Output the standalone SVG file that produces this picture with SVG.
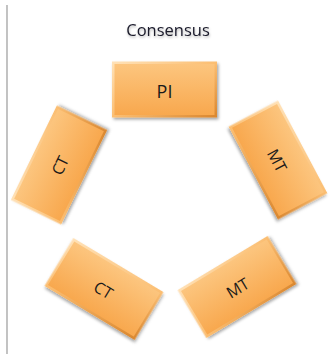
<svg xmlns="http://www.w3.org/2000/svg" width="331" height="354" viewBox="0 0 331 354">
<defs>
<linearGradient id="edge" x1="0" y1="0" x2="1" y2="1">
<stop offset="0" stop-color="#FFE2B8"/>
<stop offset="0.5" stop-color="#FBBE72"/>
<stop offset="1" stop-color="#D9862E"/>
</linearGradient>
<linearGradient id="face" x1="0" y1="0" x2="0" y2="1">
<stop offset="0" stop-color="#FCC57E"/>
<stop offset="1" stop-color="#F8A84E"/>
</linearGradient>
<filter id="sh" x="-20%" y="-20%" width="140%" height="150%">
<feDropShadow dx="1.5" dy="2" stdDeviation="1.5" flood-color="#000" flood-opacity="0.35"/>
</filter>
<filter id="tsh" x="-10%" y="-30%" width="120%" height="170%">
<feDropShadow dx="0.5" dy="1.5" stdDeviation="1.2" flood-color="#000" flood-opacity="0.3"/>
</filter>
</defs>
<style>
.box .o{fill:url(#edge);filter:url(#sh);}
.box .i{fill:url(#face);}
.lbl{font-family:"Open Sans","Liberation Sans",Arial,sans-serif;font-size:16px;fill:#1a1a1a;text-anchor:middle;dominant-baseline:central;}
.title{font-family:"Open Sans","Liberation Sans",Arial,sans-serif;font-size:16.5px;fill:#1a1a2a;text-anchor:middle;filter:url(#tsh);}
</style>
<rect width="331" height="354" fill="#fff"/>
<line x1="7" y1="5" x2="7" y2="354" stroke="#9a9a9a" stroke-width="1.2"/>
<text class="title" x="168" y="36">Consensus</text>
<g id="connectors"/>
<g id="pi" class="box" transform="translate(164.5,89.5)">
<rect class="o" x="-52.5" y="-28" width="105" height="56"/>
<rect class="i" x="-50" y="-25.5" width="100" height="51"/>
<text class="lbl" x="0" y="1" style="font-size:18px">PI</text>
</g>
<g id="mt1" class="box" transform="translate(278,160) rotate(62)">
<rect class="o" x="-52.5" y="-28" width="105" height="56"/>
<rect class="i" x="-50" y="-25.5" width="100" height="51"/>
<text class="lbl" x="0" y="1">MT</text>
</g>
<g id="ct1" class="box" transform="translate(59,165) rotate(-64)">
<rect class="o" x="-52.5" y="-28" width="105" height="56"/>
<rect class="i" x="-50" y="-25.5" width="100" height="51"/>
<text class="lbl" x="0" y="1">CT</text>
</g>
<g id="ct2" class="box" transform="translate(104,289) rotate(31)">
<rect class="o" x="-52.5" y="-28" width="105" height="56"/>
<rect class="i" x="-50" y="-25.5" width="100" height="51"/>
<text class="lbl" x="0" y="1">CT</text>
</g>
<g id="mt2" class="box" transform="translate(237,287) rotate(-31)">
<rect class="o" x="-52.5" y="-28" width="105" height="56"/>
<rect class="i" x="-50" y="-25.5" width="100" height="51"/>
<text class="lbl" x="0" y="1">MT</text>
</g>
</svg>
